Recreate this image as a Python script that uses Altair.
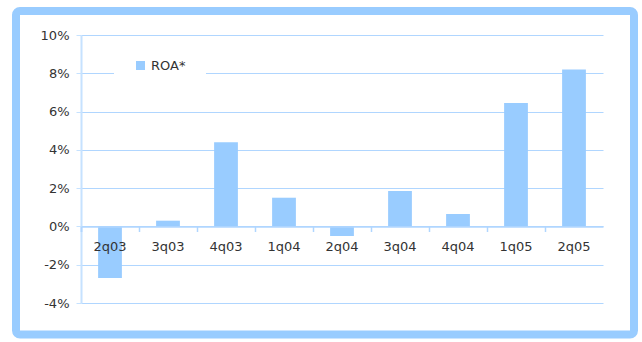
import altair as alt
import pandas as pd

# Quarterly return on assets
quarters = ["2q03", "3q03", "4q03", "1q04", "2q04", "3q04", "4q04", "1q05", "2q05"]
roa = [-0.027, 0.003, 0.044, 0.015, -0.005, 0.0185, 0.0065, 0.0645, 0.082]
series_name = "ROA*"

df = pd.DataFrame({"quarter": quarters, "roa": roa, "series": [series_name] * len(quarters)})

FONT = "DejaVu Sans"
BLUE = "#99ccff"
GRID = "#b0d6ff"
TEXT = "#333333"

bars = (
    alt.Chart(df)
    .mark_bar(width=alt.RelativeBandSize(0.41), color=BLUE)
    .encode(
        x=alt.X(
            "quarter:N",
            sort=quarters,
            title=None,
            scale=alt.Scale(paddingInner=0, paddingOuter=0),
            axis=alt.Axis(
                orient="bottom",
                offset=-76.5,
                zindex=1,
                labelAngle=0,
                bandPosition=0,
                tickExtra=True,
                tickSize=5,
                tickColor=GRID,
                tickWidth=1.5,
                domainColor=GRID,
                domainWidth=1.5,
                labelPadding=9,
                labelFont=FONT,
                labelFontSize=13,
                labelColor=TEXT,
                grid=False,
            ),
        ),
        y=alt.Y(
            "roa:Q",
            title=None,
            scale=alt.Scale(domain=[-0.04, 0.10], nice=False, zero=False),
            axis=alt.Axis(
                values=[-0.04, -0.02, 0, 0.02, 0.04, 0.06, 0.08, 0.10],
                labelExpr="round(datum.value * 100) + '%'",
                grid=True,
                gridColor=GRID,
                gridWidth=1,
                domainColor="#c6e2ff",
                domainWidth=2,
                tickColor="#c6e2ff",
                tickSize=5,
                labelPadding=7,
                labelFont=FONT,
                labelFontSize=13,
                labelColor=TEXT,
            ),
        ),
        color=alt.Color(
            "series:N",
            scale=alt.Scale(range=[BLUE]),
            legend=alt.Legend(
                title=None,
                orient="none",
                legendX=33,
                legendY=4,
                fillColor="white",
                padding=20,
                symbolType="square",
                symbolSize=81,
                symbolStrokeWidth=0,
                labelFont=FONT,
                labelFontSize=13,
                labelColor=TEXT,
            ),
        ),
    )
)

# Rounded light-blue frame around the whole figure
frame = (
    alt.Chart(pd.DataFrame({"k": [0]}))
    .mark_rect(fill=None, stroke=BLUE, strokeWidth=8, cornerRadius=4)
    .encode(
        x=alt.value(-65),
        x2=alt.value(553),
        y=alt.value(-24),
        y2=alt.value(299.5),
    )
)

chart = (
    alt.layer(bars, frame)
    .properties(
        width=522,
        height=268,
        autosize=alt.AutoSizeParams(type="none"),
        padding={"left": 81, "top": 35, "right": 39, "bottom": 39},
        background="white",
    )
    .configure_view(stroke=None)
)

chart.save("out.html", embed_options={"renderer": "svg", "actions": False})
